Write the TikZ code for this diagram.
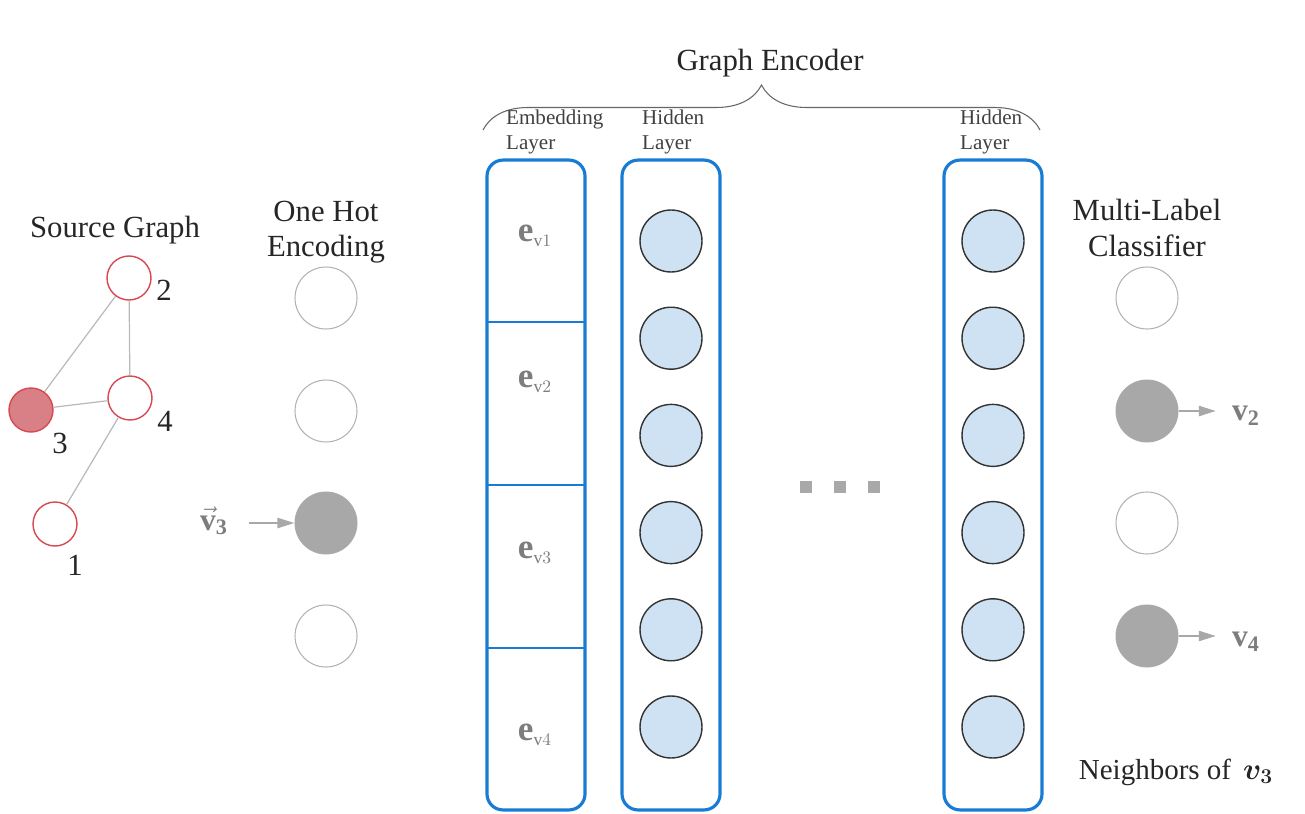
\documentclass[tikz,border=0pt]{standalone}
\usepackage{fontspec}
\setmainfont{Liberation Serif}
\usepackage{amsmath}
\usepackage{bm}
\usetikzlibrary{arrows.meta,decorations.pathreplacing}

\definecolor{layerblue}{RGB}{24,124,212}
\definecolor{unitblue}{RGB}{207,226,243}
\definecolor{nodered}{RGB}{214,72,82}
\definecolor{nodefill}{RGB}{217,128,134}
\definecolor{hotgray}{RGB}{168,168,168}
\definecolor{edgegray}{RGB}{185,185,185}
\definecolor{labelgray}{RGB}{125,125,125}

\tikzset{
  title/.style={font=\fontsize{17.5}{20}\selectfont, align=center, text=black!85},
  small/.style={font=\fontsize{12}{14.5}\selectfont, align=left, text=black!75},
  gnode/.style={circle, draw=nodered, line width=0.8pt, minimum size=0.88cm, inner sep=0pt},
  onehot/.style={circle, draw=black!30, line width=0.6pt, minimum size=1.24cm, inner sep=0pt},
  unit/.style={circle, draw=black!80, fill=unitblue, line width=0.8pt, minimum size=1.24cm, inner sep=0pt},
  layer/.style={draw=layerblue, line width=1.8pt, rounded corners=0.32cm, minimum width=1.96cm, minimum height=13cm, inner sep=0pt},
  pointer/.style={draw=hotgray, line width=1.3pt, -{Triangle[length=0.34cm,width=0.2cm]}},
  elabel/.style={text=labelgray, font=\fontsize{20}{20}\selectfont},
  vlabel/.style={text=labelgray, font=\fontsize{18}{18}\selectfont},
}

\begin{document}
\begin{tikzpicture}[x=0.02cm, y=-0.02cm]
  \useasboundingbox (0,0) rectangle (1305,814);

  % Source graph
  \node[title] (srctitle) at (115,230) {Source Graph};
  \node[gnode] (g2) at (129,278) {};
  \node[gnode] (g4) at (130,398) {};
  \node[gnode, fill=nodefill] (g3) at (31,410) {};
  \node[gnode] (g1) at (55,524) {};
  \node[title] (l2) at (164,290) {2};
  \node[title] (l4) at (165,421) {4};
  \node[title] (l3) at (60,443) {3};
  \node[title] (l1) at (75,565) {1};
  \draw[edgegray, line width=0.7pt] (g2) -- (g3);
  \draw[edgegray, line width=0.7pt] (g2) -- (g4);
  \draw[edgegray, line width=0.7pt] (g3) -- (g4);
  \draw[edgegray, line width=0.7pt] (g4) -- (g1);

  % One hot encoding
  \node[title] (ohtitle) at (326,232) {One Hot\\Encoding};
  \foreach \y [count=\i] in {298,411,523,636}
    \node[onehot] (oh\i) at (326,\y) {};
  \fill[hotgray] (oh3) circle (0.62cm);
  \node[vlabel] (lv3) at (214,521) {$\vec{\mathbf{v}}_{\mathbf{3}}$};
  \draw[pointer, shorten <=0.3cm] (lv3.east |- oh3) -- (oh3.west);

  % Graph encoder
  \node[title] (enctitle) at (770,63) {Graph Encoder};
  \draw[decorate, decoration={brace, amplitude=0.9cm}, draw=black!60, line width=0.6pt]
    (483,130) -- (1040,130);
  \node[small, anchor=west] (embtitle) at (500,132) {Embedding\\Layer};
  \node[small, anchor=west] (hid1title) at (636,132) {Hidden\\Layer};
  \node[small, anchor=west] (hid2title) at (954,132) {Hidden\\Layer};

  % Embedding layer
  \node[layer] (emb) at (536,485) {};
  \foreach \y in {322,485,648}
    \draw[layerblue, line width=1.2pt] (488,\y) -- (585,\y);
  \node[elabel] (e1) at (535,236) {$\mathbf{e}_{\scriptscriptstyle\mathrm{v}1}$};
  \node[elabel] (e2) at (535,382) {$\mathbf{e}_{\scriptscriptstyle\mathrm{v}2}$};
  \node[elabel] (e3) at (535,553) {$\mathbf{e}_{\scriptscriptstyle\mathrm{v}3}$};
  \node[elabel] (e4) at (535,735) {$\mathbf{e}_{\scriptscriptstyle\mathrm{v}4}$};

  % Hidden layers
  \node[layer] (hid1) at (671,485) {};
  \node[layer] (hid2) at (993,485) {};
  \foreach \i in {1,...,6} {
    \node[unit] (ha\i) at (671,{241+(\i-1)*97.2}) {};
    \node[unit] (hb\i) at (993,{241+(\i-1)*97.2}) {};
  }
  \foreach \x in {806,840,874}
    \fill[hotgray] (\x-6,481) rectangle (\x+6,493);

  % Multi-label classifier
  \node[title] (mltitle) at (1147,228) {Multi-Label\\Classifier};
  \foreach \y [count=\i] in {298,411,523,636}
    \node[onehot] (oc\i) at (1147,\y) {};
  \fill[hotgray] (oc2) circle (0.62cm);
  \fill[hotgray] (oc4) circle (0.62cm);
  \node[vlabel] (lv2) at (1246,416) {$\mathbf{v}_{\mathbf{2}}$};
  \node[vlabel] (lv4) at (1246,642) {$\mathbf{v}_{\mathbf{4}}$};
  \draw[pointer, shorten >=0.2cm] (oc2.east) -- (lv2.west |- oc2.east);
  \draw[pointer, shorten >=0.2cm] (oc4.east) -- (lv4.west |- oc4.east);
  \node[title, font=\fontsize{16.5}{20}\selectfont] (neigh) at (1176,772) {Neighbors of \,$\bm{v_3}$};
\end{tikzpicture}
\end{document}
